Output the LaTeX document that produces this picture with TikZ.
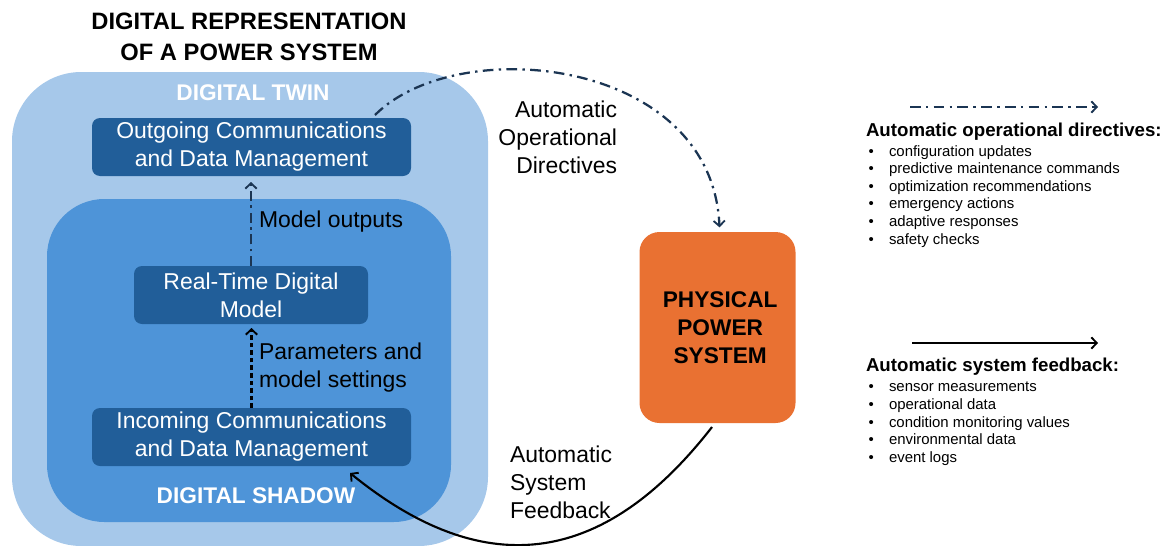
\documentclass[tikz,border=0pt]{standalone}
\usepackage{fontspec}
\setmainfont{Liberation Sans}
\usetikzlibrary{arrows.meta,calc}

\definecolor{twinblue}{HTML}{A6C8EA}
\definecolor{shadowblue}{HTML}{4E94D8}
\definecolor{boxblue}{HTML}{215E99}
\definecolor{physorange}{HTML}{E97132}
\definecolor{navy}{HTML}{1B3553}

\begin{document}
\begin{tikzpicture}[x=0.75pt,y=-0.75pt,
  every node/.style={inner sep=0pt, outer sep=0pt},
  main/.style={font=\fontsize{17.2}{21}\selectfont},
  heading/.style={font=\bfseries\fontsize{17}{21}\selectfont},
  container/.style={draw=none},
  stagebox/.style={fill=boxblue, rounded corners=6pt, text=white, align=center,
    main, minimum height=43.5pt},
  tipbarb/.style={-{Straight Barb[length=4pt,width=8.5pt,line width=1.4pt]}},
  directive/.style={navy, line width=1.7pt, tipbarb,
    dash pattern=on 8pt off 4pt on 1.8pt off 4pt},
  feedback/.style={black, line width=1.6pt, tipbarb},
  settings/.style={black, line width=1.6pt, tipbarb, dash pattern=on 3.5pt off 2.2pt},
  legendtitle/.style={font=\bfseries\fontsize{14}{17}\selectfont, anchor=west},
  legendlist/.style={font=\fontsize{11.2}{13.2}\selectfont, anchor=west}
]
\useasboundingbox (0,0) rectangle (1167,546);

% heading
\node[font=\bfseries\fontsize{17.8}{23.25}\selectfont, align=center] (title) at (249,37)
  {DIGITAL REPRESENTATION\\OF A POWER SYSTEM};

% nested containers
\node[container, fill=twinblue, rounded corners=52pt, minimum width=357pt,
  minimum height=355.5pt] (twin) at (250,309) {};
\node[container, fill=shadowblue, rounded corners=43pt, minimum width=303pt,
  minimum height=242.25pt] (shadow) at (249,360.5) {};
\node[heading, text=white] (twinlabel) at (253,93) {DIGITAL TWIN};
\node[heading, text=white] (shadowlabel) at (256,496) {DIGITAL SHADOW};

% processing stages
\node[stagebox, minimum width=239.25pt] (out) at (251.5,147)
  {Outgoing Communications\\and Data Management};
\node[stagebox, minimum width=175.5pt] (rt) at (251,295)
  {Real-Time Digital\\Model};
\node[stagebox, minimum width=239.25pt] (inc) at (251.5,437)
  {Incoming Communications\\and Data Management};

% physical system
\node[fill=physorange, rounded corners=15pt, minimum width=117pt,
  minimum height=143.25pt, heading, align=center] (phys) at (717.5,327.5)
  {\hspace*{4pt}PHYSICAL\\\hspace*{4pt}POWER\\\hspace*{4pt}SYSTEM};

% internal flows
\draw[directive, dash pattern=on 7.5pt off 3.5pt on 1.8pt off 3.5pt, shorten >=4.5pt]
  (rt.north) -- (rt.north |- out.south);
\node[main, anchor=west] (molabel) at (259,222) {Model outputs};
\draw[settings, shorten >=3pt] (inc.north) -- (inc.north |- rt.south);
\node[main, anchor=west, align=left] (pmlabel) at (259,367.5)
  {Parameters and\\model settings};

% loop between twin and physical system
\draw[directive] ([xshift=-27pt,yshift=2.25pt]out.north east)
  .. controls (458,32) and (712,58) .. ([xshift=1.5pt,yshift=3.5pt]phys.north);
\node[main, anchor=east, align=right] (dirlabel) at (617,137)
  {Automatic\\Operational\\Directives};

\draw[feedback] ([xshift=-4.1pt,yshift=-3pt]phys.south)
  .. controls (607,562) and (489,586) .. ([xshift=-45.75pt,yshift=-5.25pt]inc.south east);
\node[main, anchor=west, align=left] (fblabel) at (510,482)
  {Automatic\\System\\Feedback};

% legend
\coordinate (dirA) at (910,107);
\coordinate (dirB) at (1098,107);
\draw[directive] (dirA) -- (dirB);
\node[legendtitle] (dirtitle) at (866,132) {Automatic operational directives:};
\node[legendlist] (dirlist) at (866,196.5) {%
  \begin{tabular}{@{}p{17.25pt}@{}l@{}}
  \,• & configuration updates\\
  \,• & predictive maintenance commands\\
  \,• & optimization recommendations\\
  \,• & emergency actions\\
  \,• & adaptive responses\\
  \,• & safety checks
  \end{tabular}};

\coordinate (fbA) at (912,343);
\coordinate (fbB) at (1098,343);
\draw[feedback] (fbA) -- (fbB);
\node[legendtitle] (fbtitle) at (866,367) {Automatic system feedback:};
\node[legendlist] (fblist) at (866,423.5) {%
  \begin{tabular}{@{}p{17.25pt}@{}l@{}}
  \,• & sensor measurements\\
  \,• & operational data\\
  \,• & condition monitoring values\\
  \,• & environmental data\\
  \,• & event logs
  \end{tabular}};
\end{tikzpicture}
\end{document}
